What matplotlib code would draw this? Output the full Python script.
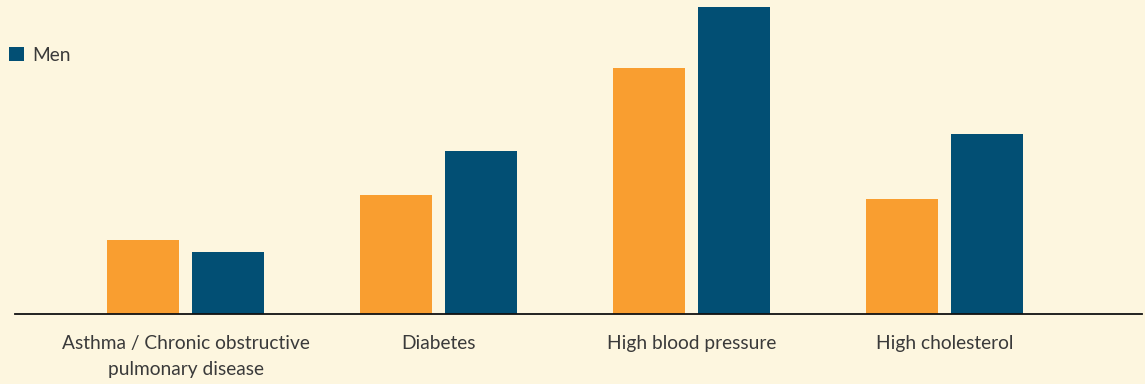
import matplotlib
matplotlib.use("Agg")
import matplotlib.pyplot as plt
import numpy as np

categories = ["Asthma / Chronic obstructive\npulmonary disease", "Diabetes",
              "High blood pressure", "High cholesterol"]
women = [7.4, 11.9, 24.6, 11.5]
men = [6.2, 16.3, 30.7, 18.0]

BG = "#fdf6df"
ORANGE = "#f99e30"
BLUE = "#024f74"
TEXT = "#3a3a3a"

plt.rcParams["font.family"] = ["Lato", "DejaVu Sans"]

fig = plt.figure(figsize=(11.45, 3.84), dpi=100, facecolor=BG)
W, H = 1145, 384
ax = fig.add_axes([15 / W, 70 / H, 1127 / W, 314 / H], facecolor=BG)

x = np.arange(len(categories))
width = 0.285
off = 0.168
ax.bar(x - off, women, width, color=ORANGE, label="Women")
men_bars = ax.bar(x + off, men, width, color=BLUE, label="Men")

ax.set_xlim(-0.674, 3.781)
ax.set_ylim(0, 31.4)

for s in ["top", "right", "left"]:
    ax.spines[s].set_visible(False)
ax.spines["bottom"].set_color("#111111")
ax.spines["bottom"].set_linewidth(1.3)
ax.set_yticks([])
ax.set_xticks(x)
ax.set_xticklabels(categories, fontsize=13.8, color=TEXT, linespacing=1.65)
ax.tick_params(axis="x", length=0, pad=15)

fig.legend(handles=[men_bars], labels=["Men"], loc="upper left",
           bbox_to_anchor=(1 / W, 1 - 39 / H), frameon=False, fontsize=13.8,
           handlelength=0.8, handleheight=0.8, handletextpad=0.45,
           labelcolor=TEXT, borderaxespad=0)

fig.savefig("out.png", dpi=100, facecolor=BG)
